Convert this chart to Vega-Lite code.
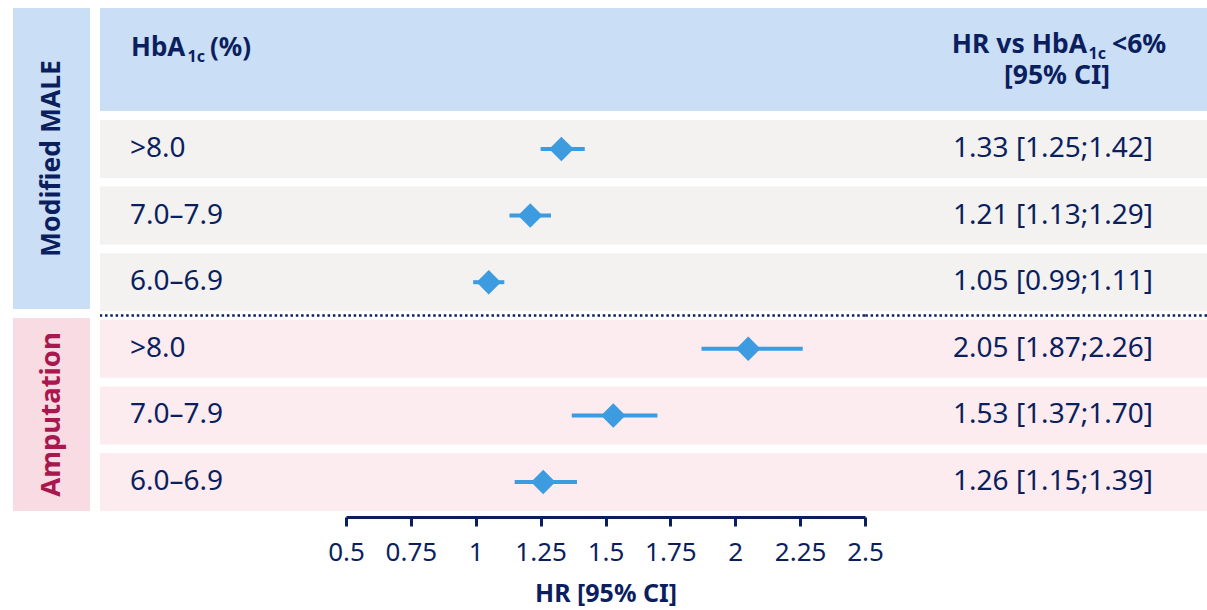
{
  "$schema": "https://vega.github.io/schema/vega-lite/v6.json",
  "padding": {"left": 13, "top": 8, "right": 0, "bottom": 0},
  "background": "white",
  "config": {"view": {"stroke": null}, "font": "Noto Sans", "text": {"font": "Noto Sans"}},
  "datasets": {
    "rows": [
      {"id": "M1", "section": "Modified MALE", "label": ">8.0", "hr": 1.33, "lo": 1.25, "hi": 1.42, "ci": "1.33 [1.25;1.42]"},
      {"id": "M2", "section": "Modified MALE", "label": "7.0–7.9", "hr": 1.21, "lo": 1.13, "hi": 1.29, "ci": "1.21 [1.13;1.29]"},
      {"id": "M3", "section": "Modified MALE", "label": "6.0–6.9", "hr": 1.05, "lo": 0.99, "hi": 1.11, "ci": "1.05 [0.99;1.11]"},
      {"id": "A1", "section": "Amputation", "label": ">8.0", "hr": 2.05, "lo": 1.87, "hi": 2.26, "ci": "2.05 [1.87;2.26]"},
      {"id": "A2", "section": "Amputation", "label": "7.0–7.9", "hr": 1.53, "lo": 1.37, "hi": 1.70, "ci": "1.53 [1.37;1.70]"},
      {"id": "A3", "section": "Amputation", "label": "6.0–6.9", "hr": 1.26, "lo": 1.15, "hi": 1.39, "ci": "1.26 [1.15;1.39]"}
    ]
  },
  "spacing": 8,
  "hconcat": [
    {
      "spacing": 9,
      "vconcat": [
        {
          "width": 77, "height": 301,
          "view": {"fill": "#cadef5", "stroke": null},
          "data": {"values": [{}]},
          "mark": {"type": "text", "text": "Modified MALE", "angle": 270, "fontSize": 26.5, "fontWeight": "bold", "color": "#0b1f5f"},
          "encoding": {}
        },
        {
          "width": 77, "height": 193,
          "view": {"fill": "#f9dbe3", "stroke": null},
          "data": {"values": [{}]},
          "mark": {"type": "text", "text": "Amputation", "angle": 270, "fontSize": 27.5, "fontWeight": "bold", "color": "#a8174d"},
          "encoding": {}
        }
      ]
    },
    {
      "spacing": 9,
      "bounds": "flush",
      "vconcat": [
        {
          "width": 1107, "height": 103,
          "view": {"fill": "#cadef5", "stroke": null},
          "data": {"values": [{}]},
          "layer": [
            {"mark": {"type": "text", "text": "HbA", "align": "left", "baseline": "alphabetic", "dx": -522.5, "dy": -3.5, "fontSize": 26, "fontWeight": "bold", "color": "#0b1f5f"}, "encoding": {}},
            {"mark": {"type": "text", "text": "1c", "align": "left", "baseline": "alphabetic", "dx": -466, "dy": 2.5, "fontSize": 16, "fontWeight": "bold", "color": "#0b1f5f"}, "encoding": {}},
            {"mark": {"type": "text", "text": "(%)", "align": "left", "baseline": "alphabetic", "dx": -443.5, "dy": -3.5, "fontSize": 26, "fontWeight": "bold", "color": "#0b1f5f"}, "encoding": {}},
            {"mark": {"type": "text", "text": "HR vs HbA", "align": "right", "baseline": "alphabetic", "dx": 433.5, "dy": -6.5, "fontSize": 26.5, "fontWeight": "bold", "color": "#0b1f5f"}, "encoding": {}},
            {"mark": {"type": "text", "text": "1c", "align": "left", "baseline": "alphabetic", "dx": 435, "dy": -0.5, "fontSize": 16, "fontWeight": "bold", "color": "#0b1f5f"}, "encoding": {}},
            {"mark": {"type": "text", "text": "<6%", "align": "left", "baseline": "alphabetic", "dx": 458.5, "dy": -6.5, "fontSize": 26.5, "fontWeight": "bold", "color": "#0b1f5f"}, "encoding": {}},
            {"mark": {"type": "text", "text": "[95% CI]", "align": "center", "baseline": "alphabetic", "dx": 403.5, "dy": 24.5, "fontSize": 26.5, "fontWeight": "bold", "color": "#0b1f5f"}, "encoding": {}}
          ]
        },
        {
          "spacing": 0,
          "bounds": "flush",
          "hconcat": [
            {
              "width": 246, "height": 391,
              "data": {"name": "rows"},
              "layer": [
                {"mark": {"type": "rect"}, "encoding": {
                  "y": {"field": "id", "type": "nominal", "sort": null, "scale": {"domain": ["M1","M2","M3","A1","A2","A3"], "paddingInner": 0.13, "paddingOuter": 0}, "axis": null},
                  "fill": {"field": "section", "type": "nominal", "scale": {"domain": ["Modified MALE", "Amputation"], "range": ["#f3f2f1", "#fcebef"]}, "legend": null}}},
                {"transform": [{"filter": "datum.id === 'A1'"}], "mark": {"type": "rule", "color": "#0b1f5f", "strokeWidth": 2.5, "strokeDash": [2.5, 2.8]}, "encoding": {
                  "y": {"field": "id", "type": "nominal", "sort": null, "bandPosition": -0.075, "scale": {"domain": ["M1","M2","M3","A1","A2","A3"], "paddingInner": 0.13, "paddingOuter": 0}, "axis": null}}},
                {"mark": {"type": "text", "align": "left", "dx": -93, "fontSize": 28, "color": "#0b1f5f"}, "encoding": {
                  "y": {"field": "id", "type": "nominal", "sort": null, "scale": {"domain": ["M1","M2","M3","A1","A2","A3"], "paddingInner": 0.13, "paddingOuter": 0}, "axis": null},
                  "text": {"field": "label"}}}
              ]
            },
            {
              "width": 519, "height": 391,
              "data": {"name": "rows"},
              "layer": [
                {"mark": {"type": "rect"}, "encoding": {
                  "y": {"field": "id", "type": "nominal", "sort": null, "scale": {"domain": ["M1","M2","M3","A1","A2","A3"], "paddingInner": 0.13, "paddingOuter": 0}, "axis": null},
                  "fill": {"field": "section", "type": "nominal", "scale": {"domain": ["Modified MALE", "Amputation"], "range": ["#f3f2f1", "#fcebef"]}, "legend": null}}},
                {"transform": [{"filter": "datum.id === 'A1'"}], "mark": {"type": "rule", "color": "#0b1f5f", "strokeWidth": 2.5, "strokeDash": [2.5, 2.8]}, "encoding": {
                  "y": {"field": "id", "type": "nominal", "sort": null, "bandPosition": -0.075, "scale": {"domain": ["M1","M2","M3","A1","A2","A3"], "paddingInner": 0.13, "paddingOuter": 0}, "axis": null}}},
                {"mark": {"type": "rule", "color": "#3d9be0", "strokeWidth": 4}, "encoding": {
                  "y": {"field": "id", "type": "nominal", "sort": null, "scale": {"domain": ["M1","M2","M3","A1","A2","A3"], "paddingInner": 0.13, "paddingOuter": 0}, "axis": null},
                  "x": {"field": "lo", "type": "quantitative", "scale": {"domain": [0.5, 2.5], "nice": false, "zero": false},
                    "axis": {"values": [0.5, 0.75, 1, 1.25, 1.5, 1.75, 2, 2.25, 2.5], "labelExpr": "'' + datum.value", "offset": 6, "grid": false,
                      "domainColor": "#0b1f5f", "domainWidth": 3, "tickColor": "#0b1f5f", "tickWidth": 3, "tickSize": 9,
                      "labelFontSize": 26, "labelColor": "#0b1f5f", "labelPadding": 13, "labelFlush": false, "labelFont": "Noto Sans",
                      "title": "HR [95% CI]", "titleFontSize": 25, "titleFontWeight": "bold", "titleColor": "#0b1f5f", "titlePadding": 16, "titleFont": "Noto Sans"}},
                  "x2": {"field": "hi"}}},
                {"mark": {"type": "point", "shape": "diamond", "filled": true, "size": 600, "color": "#3d9be0", "opacity": 1}, "encoding": {
                  "y": {"field": "id", "type": "nominal", "sort": null, "scale": {"domain": ["M1","M2","M3","A1","A2","A3"], "paddingInner": 0.13, "paddingOuter": 0}, "axis": null},
                  "x": {"field": "hr", "type": "quantitative"}}}
              ]
            },
            {
              "width": 342, "height": 391,
              "data": {"name": "rows"},
              "layer": [
                {"mark": {"type": "rect"}, "encoding": {
                  "y": {"field": "id", "type": "nominal", "sort": null, "scale": {"domain": ["M1","M2","M3","A1","A2","A3"], "paddingInner": 0.13, "paddingOuter": 0}, "axis": null},
                  "fill": {"field": "section", "type": "nominal", "scale": {"domain": ["Modified MALE", "Amputation"], "range": ["#f3f2f1", "#fcebef"]}, "legend": null}}},
                {"transform": [{"filter": "datum.id === 'A1'"}], "mark": {"type": "rule", "color": "#0b1f5f", "strokeWidth": 2.5, "strokeDash": [2.5, 2.8]}, "encoding": {
                  "y": {"field": "id", "type": "nominal", "sort": null, "bandPosition": -0.075, "scale": {"domain": ["M1","M2","M3","A1","A2","A3"], "paddingInner": 0.13, "paddingOuter": 0}, "axis": null}}},
                {"mark": {"type": "text", "align": "center", "dx": 17, "fontSize": 28, "color": "#0b1f5f"}, "encoding": {
                  "y": {"field": "id", "type": "nominal", "sort": null, "scale": {"domain": ["M1","M2","M3","A1","A2","A3"], "paddingInner": 0.13, "paddingOuter": 0}, "axis": null},
                  "text": {"field": "ci"}}}
              ]
            }
          ]
        }
      ]
    }
  ]
}
